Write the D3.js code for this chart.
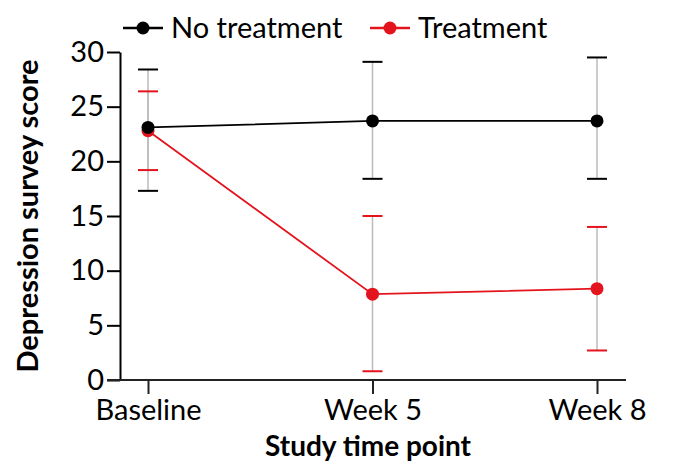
<!DOCTYPE html>
<html><head><meta charset="utf-8">
<script src="https://cdn.jsdelivr.net/npm/d3@7"></script>
<style>body{margin:0;background:#fff}svg{display:block}text{font-family:Lato,"Noto Sans",sans-serif}</style>
</head><body><svg id="c" width="680" height="471"></svg>
<script>
const categories = ["Baseline", "Week 5", "Week 8"];
const seriesNames = ["No treatment", "Treatment"];
const noTreatMean = [23.1, 23.7, 23.7];
const noTreatUpper = [28.4, 29.1, 29.5];
const noTreatLower = [17.3, 18.4, 18.4];
const treatMean = [22.8, 7.85, 8.35];
const treatUpper = [26.4, 15.0, 14.0];
const treatLower = [19.2, 0.8, 2.7];
const yTicks = [0, 5, 10, 15, 20, 25, 30];
const colors = ["#000000", "#e3141e"];

const svg = d3.select("#c");
const x = d3.scalePoint().domain(categories).range([148, 597]).padding(0);
const y = d3.scaleLinear().domain([0, 30]).range([380, 52]);

// y axis
const ya = svg.append("g").attr("transform", "translate(120,0)")
  .call(d3.axisLeft(y).tickValues(yTicks).tickSize(13).tickSizeOuter(0).tickPadding(3));
ya.selectAll("path,line").attr("stroke", "#000").attr("stroke-width", 2);
ya.selectAll("text").style("font-size", "29px").attr("fill", "#000");

// x axis
const xa = svg.append("g").attr("transform", "translate(0,380)")
  .call(d3.axisBottom(x).tickSize(14).tickSizeOuter(0).tickPadding(5));
xa.select(".domain").remove();
xa.selectAll("line").attr("stroke", "#222").attr("stroke-width", 2);
xa.selectAll("text").style("font-size", "29px").attr("fill", "#000");
svg.append("line").attr("x1", 107).attr("x2", 626).attr("y1", y(0)).attr("y2", y(0))
  .attr("stroke", "#222").attr("stroke-width", 2);

const series = [
  {mean: noTreatMean, up: noTreatUpper, lo: noTreatLower, color: colors[0]},
  {mean: treatMean, up: treatUpper, lo: treatLower, color: colors[1]}
];

// error bars
series.forEach(s => {
  categories.forEach((c, i) => {
    svg.append("line").attr("x1", x(c)).attr("x2", x(c)).attr("y1", y(s.up[i])).attr("y2", y(s.lo[i]))
      .attr("stroke", "#bbbbbb").attr("stroke-width", 1.5);
  });
});
series.forEach(s => {
  categories.forEach((c, i) => {
    [s.up[i], s.lo[i]].forEach(v => {
      svg.append("line").attr("x1", x(c) - 10).attr("x2", x(c) + 10).attr("y1", y(v)).attr("y2", y(v))
        .attr("stroke", s.color).attr("stroke-width", 2);
    });
  });
});

// lines and markers
[series[1], series[0]].forEach(s => {
  const line = d3.line().x((d, i) => x(categories[i])).y(d => y(d));
  svg.append("path").datum(s.mean).attr("d", line).attr("fill", "none")
    .attr("stroke", s.color).attr("stroke-width", 1.8);
  svg.selectAll(null).data(s.mean).enter().append("circle")
    .attr("cx", (d, i) => x(categories[i])).attr("cy", d => y(d)).attr("r", 6.5).attr("fill", s.color);
});

// legend
const legX = [123, 370];
seriesNames.forEach((n, i) => {
  const g = svg.append("g").attr("transform", `translate(${legX[i]},28)`);
  g.append("line").attr("x1", 0).attr("x2", 40).attr("stroke", colors[i]).attr("stroke-width", 2.5);
  g.append("circle").attr("cx", 20).attr("r", 6.5).attr("fill", colors[i]);
  g.append("text").attr("x", 48).attr("y", 10).style("font-size", "29px").text(n);
});

// axis titles
svg.append("text").attr("x", 368).attr("y", 456).attr("text-anchor", "middle")
  .style("font-size", "28px").style("font-weight", 700).text("Study time point");
svg.append("text").attr("transform", "translate(38,216) rotate(-90)").attr("text-anchor", "middle")
  .style("font-size", "29px").style("font-weight", 700).text("Depression survey score");
</script></body></html>
